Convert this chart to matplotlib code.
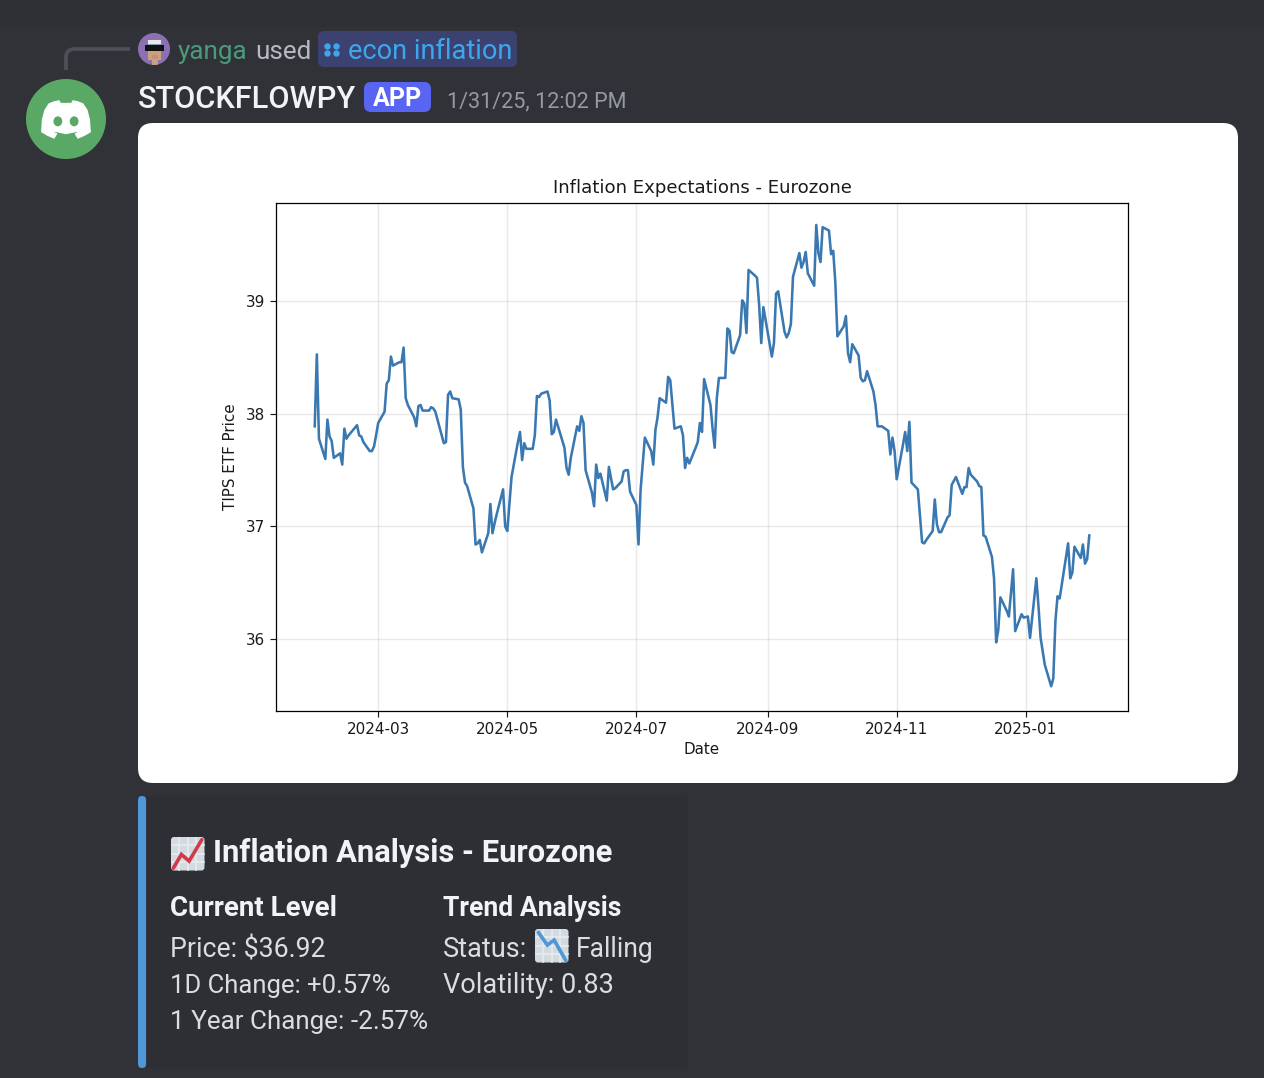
import matplotlib
matplotlib.use("Agg")
import matplotlib.pyplot as plt
import matplotlib.dates as mdates
from matplotlib.patches import Circle, Ellipse, FancyBboxPatch, Polygon, PathPatch, Rectangle
from matplotlib.path import Path
import pandas as pd

TITLE = "Inflation Expectations - Eurozone"
XLABEL = "Date"
YLABEL = "TIPS ETF Price"

dates = """2024-01-31 2024-02-01 2024-02-02 2024-02-05 2024-02-06 2024-02-07 2024-02-08 2024-02-09 2024-02-12 2024-02-13
2024-02-14 2024-02-15 2024-02-16 2024-02-20 2024-02-21 2024-02-22 2024-02-23 2024-02-26 2024-02-27 2024-02-28 2024-02-29
2024-03-01 2024-03-04 2024-03-05 2024-03-06 2024-03-07 2024-03-08 2024-03-11 2024-03-12 2024-03-13 2024-03-14 2024-03-15
2024-03-18 2024-03-19 2024-03-20 2024-03-21 2024-03-22 2024-03-25 2024-03-26 2024-03-27 2024-03-28
2024-04-01 2024-04-02 2024-04-03 2024-04-04 2024-04-05 2024-04-08 2024-04-09 2024-04-10 2024-04-11 2024-04-12
2024-04-15 2024-04-16 2024-04-17 2024-04-18 2024-04-19 2024-04-22 2024-04-23 2024-04-24 2024-04-25 2024-04-26
2024-04-29 2024-04-30 2024-05-01 2024-05-02 2024-05-03 2024-05-06 2024-05-07 2024-05-08 2024-05-09 2024-05-10
2024-05-13 2024-05-14 2024-05-15 2024-05-16 2024-05-17 2024-05-20 2024-05-21 2024-05-22 2024-05-23 2024-05-24
2024-05-28 2024-05-29 2024-05-30 2024-05-31 2024-06-03 2024-06-04 2024-06-05 2024-06-06 2024-06-07
2024-06-10 2024-06-11 2024-06-12 2024-06-13 2024-06-14 2024-06-17 2024-06-18 2024-06-20 2024-06-21
2024-06-24 2024-06-25 2024-06-26 2024-06-27 2024-06-28 2024-07-01 2024-07-02 2024-07-03 2024-07-05
2024-07-08 2024-07-09 2024-07-10 2024-07-11 2024-07-12 2024-07-15 2024-07-16 2024-07-17 2024-07-18 2024-07-19
2024-07-22 2024-07-23 2024-07-24 2024-07-25 2024-07-26 2024-07-29 2024-07-30 2024-07-31 2024-08-01 2024-08-02
2024-08-05 2024-08-06 2024-08-07 2024-08-08 2024-08-09 2024-08-12 2024-08-13 2024-08-14 2024-08-15 2024-08-16
2024-08-19 2024-08-20 2024-08-21 2024-08-22 2024-08-23 2024-08-26 2024-08-27 2024-08-28 2024-08-29 2024-08-30
2024-09-03 2024-09-04 2024-09-05 2024-09-06 2024-09-09 2024-09-10 2024-09-11 2024-09-12 2024-09-13
2024-09-16 2024-09-17 2024-09-18 2024-09-19 2024-09-20 2024-09-23 2024-09-24 2024-09-25 2024-09-26 2024-09-27
2024-09-30 2024-10-01 2024-10-02 2024-10-03 2024-10-04 2024-10-07 2024-10-08 2024-10-09 2024-10-10 2024-10-11
2024-10-14 2024-10-15 2024-10-16 2024-10-17 2024-10-18 2024-10-21 2024-10-22 2024-10-23 2024-10-24 2024-10-25
2024-10-28 2024-10-29 2024-10-30 2024-10-31 2024-11-01 2024-11-04 2024-11-05 2024-11-06 2024-11-07 2024-11-08
2024-11-11 2024-11-12 2024-11-13 2024-11-14 2024-11-15 2024-11-18 2024-11-19 2024-11-20 2024-11-21 2024-11-22
2024-11-25 2024-11-26 2024-11-27 2024-11-29 2024-12-02 2024-12-03 2024-12-04 2024-12-05 2024-12-06
2024-12-09 2024-12-10 2024-12-11 2024-12-12 2024-12-13 2024-12-16 2024-12-17 2024-12-18 2024-12-19 2024-12-20
2024-12-23 2024-12-24 2024-12-26 2024-12-27 2024-12-30 2024-12-31 2025-01-02 2025-01-03
2025-01-06 2025-01-07 2025-01-08 2025-01-10 2025-01-13 2025-01-14 2025-01-15 2025-01-16 2025-01-17
2025-01-21 2025-01-22 2025-01-23 2025-01-24 2025-01-27 2025-01-28 2025-01-29 2025-01-30 2025-01-31""".split()

prices = [37.89, 38.53, 37.78, 37.60, 37.95, 37.80, 37.76, 37.61, 37.65, 37.55,
          37.87, 37.78, 37.81, 37.90, 37.81, 37.80, 37.75, 37.67, 37.67, 37.71, 37.81,
          37.92, 38.02, 38.27, 38.30, 38.51, 38.43, 38.46, 38.46, 38.59, 38.14, 38.08,
          37.97, 37.89, 38.07, 38.08, 38.03, 38.03, 38.06, 38.05, 38.02,
          37.74, 37.75, 38.17, 38.20, 38.14, 38.13, 38.04, 37.53, 37.39, 37.36,
          37.16, 36.84, 36.85, 36.88, 36.77, 36.94, 37.20, 36.94, 37.03, 37.11,
          37.33, 37.00, 36.96, 37.20, 37.44, 37.75, 37.84, 37.59, 37.74, 37.69,
          37.69, 37.81, 38.16, 38.15, 38.18, 38.20, 38.12, 37.82, 37.84, 37.95,
          37.70, 37.52, 37.46, 37.61, 37.89, 37.85, 37.98, 37.92, 37.50,
          37.30, 37.18, 37.55, 37.43, 37.47, 37.23, 37.53, 37.33, 37.34,
          37.40, 37.49, 37.50, 37.50, 37.31, 37.19, 36.84, 37.33, 37.79,
          37.67, 37.55, 37.86, 37.97, 38.14, 38.10, 38.33, 38.30, 38.08, 37.87,
          37.89, 37.81, 37.52, 37.61, 37.56, 37.70, 37.75, 37.92, 37.84, 38.31,
          38.08, 37.87, 37.70, 38.14, 38.32, 38.32, 38.76, 38.74, 38.55, 38.54,
          38.70, 39.01, 38.98, 38.72, 39.28, 39.23, 39.21, 38.97, 38.63, 38.95,
          38.51, 38.63, 39.07, 39.09, 38.73, 38.68, 38.72, 38.80, 39.22,
          39.43, 39.30, 39.35, 39.44, 39.25, 39.14, 39.68, 39.43, 39.35, 39.66,
          39.63, 39.42, 39.45, 39.17, 38.69, 38.78, 38.87, 38.54, 38.46, 38.62,
          38.52, 38.32, 38.29, 38.30, 38.38, 38.20, 38.08, 37.89, 37.89, 37.89,
          37.85, 37.64, 37.79, 37.67, 37.42, 37.73, 37.84, 37.67, 37.93, 37.39,
          37.33, 37.09, 36.86, 36.85, 36.88, 36.96, 37.24, 37.02, 36.95, 36.95,
          37.08, 37.10, 37.37, 37.44, 37.29, 37.35, 37.35, 37.52, 37.46,
          37.40, 37.36, 37.35, 36.92, 36.91, 36.73, 36.54, 35.97, 36.08, 36.37,
          36.25, 36.20, 36.62, 36.07, 36.22, 36.19, 36.20, 36.01,
          36.54, 36.29, 36.01, 35.77, 35.58, 35.65, 36.16, 36.38, 36.36,
          36.85, 36.54, 36.59, 36.82, 36.72, 36.84, 36.67, 36.71, 36.92]

W, H = 1264, 1078
BG = "#303237"
FONT = "Roboto"
fig = plt.figure(figsize=(W / 100, H / 100), dpi=100, facecolor=BG)

# page furniture, in pixel coordinates
ui = fig.add_axes([0, 0, 1, 1], zorder=0)
ui.set_xlim(0, W)
ui.set_ylim(H, 0)
ui.axis("off")
renderer = fig.canvas.get_renderer()


def fit(x, base, s, target, color, weight="normal", size=20):
    t = ui.text(x, base, s, color=color, fontweight=weight, fontsize=size,
                family=FONT, va="baseline", ha="left")
    t.set_fontsize(size * target / t.get_window_extent(renderer).width)
    return t


def rbox(x0, y0, x1, y1, r, color, z=1):
    ui.add_patch(FancyBboxPatch((x0 + r, y0 + r), x1 - x0 - 2 * r, y1 - y0 - 2 * r,
                                boxstyle=f"round,pad={r},rounding_size={r}",
                                fc=color, ec="none", zorder=z))


def chart_icon(x0, y0, size, line, color):
    rbox(x0, y0, x0 + size, y0 + size, 3, "#d3dbe1", 3)
    for k in range(1, 4):
        p = k * size / 4
        ui.plot([x0 + p, x0 + p], [y0 + 1, y0 + size - 1], color="#e6ebef", lw=1.2, zorder=4)
        ui.plot([x0 + 1, x0 + size - 1], [y0 + p, y0 + p], color="#e6ebef", lw=1.2, zorder=4)
    ui.plot([x0 + a * size for a, _ in line], [y0 + b * size for _, b in line],
            color=color, lw=2.6, zorder=5, solid_capstyle="round", solid_joinstyle="miter")


# slightly darker strip along the top edge
ui.add_patch(Rectangle((0, 0), W, 27, fc="#2e3035", ec="none", zorder=0))

# reply connector
ui.add_patch(PathPatch(Path([(66, 70), (66, 57), (66, 49), (75, 49), (130, 49)],
                            [Path.MOVETO, Path.LINETO, Path.CURVE3, Path.CURVE3, Path.LINETO]),
                       fc="none", ec="#4e5058", lw=2.7, capstyle="butt", zorder=1))

# main avatar with logo
AV = "#5aa865"
ui.add_patch(Circle((66, 119), 40, fc=AV, ec="none", zorder=1))
logo = [(10.8, 4.9), (18, 2), (25.4, 0.4), (27.4, 4.2), (43.6, 4.2), (45.6, 0.4), (53, 2), (60.1, 4.9),
        (66, 14), (69.5, 28), (70.7, 45.5), (62, 50.5), (52.7, 54.5), (49, 48.3), (54.7, 45.4),
        (53.4, 44.3), (35.5, 48), (17.6, 44.3), (16.3, 45.4), (21.9, 48.3), (18.2, 54.5),
        (9, 50.5), (0.3, 45.5), (1.2, 28), (5, 14)]
LS, LX, LY = 0.69, 41.5, 100.5
ui.add_patch(Polygon([(LX + a * LS, LY + b * LS) for a, b in logo], fc="white", ec="white",
                     lw=0.8, joinstyle="round", zorder=2))
for ex in (23.7, 47.3):
    ui.add_patch(Ellipse((LX + ex * LS, LY + 30.2 * LS), 12.8 * LS, 14.4 * LS, fc=AV, ec="none", zorder=3))

# small user avatar
clip = Circle((154, 49), 16, fc="#8d6fb3", ec="none", zorder=1)
ui.add_patch(clip)
for (x0, y0, w, h, c) in [(148, 40, 13, 5, "#e8e8e8"), (148, 43.5, 13, 1.5, "#7f9db5"),
                          (148, 45, 13, 15, "#c9a27c"), (145, 45, 19, 6, "#111111"),
                          (151.5, 60, 6, 6, "#c9a27c"), (151.5, 55, 6, 3.5, "#c98a86")]:
    r = Rectangle((x0, y0), w, h, fc=c, ec="none", zorder=2)
    ui.add_patch(r)
    r.set_clip_path(clip)

fit(178, 59, "yanga", 70, "#4b9a7c")
fit(255, 59, "used", 56, "#b5bac1")
rbox(318, 31, 517, 67, 6, "#3c4270")
CMD = "#3ea6ee"
for cx, cy in [(327.5, 46.5), (336.5, 46.5), (327.5, 53.5), (336.5, 53.5)]:
    ui.add_patch(Circle((cx, cy), 3.2, fc=CMD, ec="none", zorder=2))
fit(348, 59, "econ inflation", 164, CMD)

fit(138, 108, "STOCKFLOWPY", 218, "#f2f3f5", weight=500)
rbox(364, 82, 431, 112, 7, "#5865f2")
fit(373, 106, "APP", 49, "#ffffff", weight="bold")
fit(447, 107.5, "1/31/25, 12:02 PM", 180, "#949ba4")

# white card holding the chart
rbox(138, 123, 1238, 783, 15, "#ffffff")

# embed
rbox(138, 796, 688, 1068, 5, "#2d2f34")
ui.add_patch(FancyBboxPatch((142, 800), 0.1, 264, boxstyle="round,pad=4,rounding_size=4",
                            fc="#4f97d7", ec="none", zorder=2))
UP = [(0.07, 0.93), (0.31, 0.52), (0.54, 0.72), (0.92, 0.08)]
DOWN = [(0.1, 0.1), (0.37, 0.48), (0.57, 0.33), (0.92, 0.94)]
chart_icon(171, 837, 33.5, UP, "#d13a4a")
chart_icon(535, 929, 33.5, DOWN, "#4f97d7")
WHITE, BODY = "#f2f3f5", "#dbdee1"
fit(213, 861.5, "Inflation Analysis - Eurozone", 399, WHITE, weight="bold")
fit(170, 916, "Current Level", 166, WHITE, weight="bold")
fit(443, 916, "Trend Analysis", 178, WHITE, weight="bold")
fit(170, 957, "Price: $36.92", 155, BODY)
fit(170, 993, "1D Change: +0.57%", 220, BODY)
fit(170, 1029, "1 Year Change: -2.57%", 257, BODY)
fit(443, 957, "Status:", 84, BODY)
fit(576, 957, "Falling", 78, BODY)
fit(443, 993, "Volatility: 0.83", 170, BODY)

# the chart itself
ax = fig.add_axes([276 / W, 1 - 711 / H, (1128 - 276) / W, (711 - 203) / H], zorder=2)
x = pd.to_datetime(dates)
ax.plot(x, prices, color="#3a78b2", lw=1.85)
ax.set_title(TITLE, fontsize=13.1, color="#1a1a1a", pad=7.5)
ax.set_xlabel(XLABEL, fontsize=10.9, color="#1a1a1a", labelpad=3.8)
ax.set_ylabel(YLABEL, fontsize=10.9, color="#1a1a1a", labelpad=6)
ax.xaxis.set_major_locator(mdates.MonthLocator(bymonth=[1, 3, 5, 7, 9, 11]))
ax.xaxis.set_major_formatter(mdates.DateFormatter("%Y-%m"))
ax.yaxis.set_major_locator(plt.MultipleLocator(1))
ax.yaxis.set_major_formatter(plt.FormatStrFormatter("%d"))
ax.tick_params(labelsize=10.9, length=4.2, width=0.85, colors="#1a1a1a")
ax.grid(True, color="#b0b0b0", alpha=0.28, lw=1.0)
for s in ax.spines.values():
    s.set_linewidth(0.9)
ax.set_ylim(35.36, 39.875)

fig.savefig("out.png", dpi=100, facecolor=BG)
